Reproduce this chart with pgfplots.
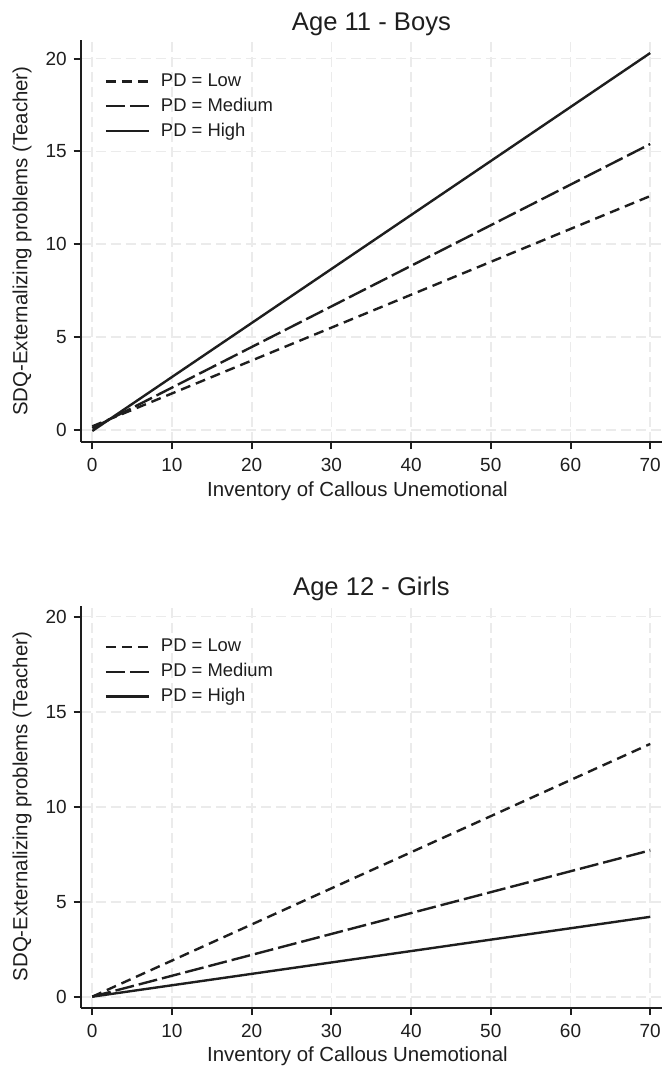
\documentclass[border=0pt]{standalone}
\usepackage{fontspec}
\setmainfont{Liberation Sans}
\usepackage{pgfplots}
\pgfplotsset{compat=1.18}
\definecolor{ink}{RGB}{30,30,30}
\definecolor{gridc}{RGB}{235,235,235}

\pgfplotsset{
  sdqpanel/.style={
    scale only axis, width=290.65pt, height=201pt,
    xmin=-1.45, xmax=71.5,
    xtick={0,10,...,70}, ytick={0,5,...,20},
    axis x line*=bottom, axis y line*=left,
    axis line style={-, line width=1pt, ink},
    tick align=outside, major tick length=3.5pt,
    tick style={line width=1pt, ink},
    grid=major,
    major grid style={gridc, line width=0.9pt, dash pattern=on 5pt off 2.5pt},
    /pgf/number format/assume math mode=true,
    tick label style={font=\fontsize{9.5}{11}\selectfont, ink},
    xticklabel style={yshift=-1pt},
    label style={font=\fontsize{10.2}{12}\selectfont, ink},
    every axis title shift=0pt,
    title style={font=\fontsize{12.8}{14}\selectfont, ink,
      at={(axis description cs:0.5,1)}, anchor=base, yshift=4.8pt},
    xlabel style={at={(axis description cs:0.476,-0.134)}, anchor=base},
    ylabel style={at={(axis description cs:-0.101,0.5)}, anchor=center},
    xlabel={Inventory of Callous Unemotional},
    ylabel={SDQ-Externalizing problems (Teacher)},
    legend cell align=left,
    legend style={draw=none, fill=none, font=\fontsize{9.2}{11}\selectfont,
      text=ink, at={(axis description cs:0.03,0.937)}, anchor=north west,
      row sep=0.3pt, nodes={inner xsep=5.5pt}},
    legend image code/.code={\draw[#1] (2pt,0pt) -- (23.5pt,0pt);},
    every axis plot/.append style={line width=1.2pt, ink},
  },
  pdlow/.style={dash pattern=on 5pt off 3pt},
  pdmed/.style={dash pattern=on 9.5pt off 2.5pt},
  pdhigh/.style={solid},
}

\begin{document}
\begin{tikzpicture}
\useasboundingbox (-40.35pt,-312.35pt) rectangle (290.65pt,221pt);

\begin{axis}[sdqpanel, at={(0pt,0pt)}, anchor=south west,
  ymin=-0.65, ymax=21, title={Age 11 - Boys}]
\addplot[pdlow] coordinates {(0,0.2) (70,12.6)};
\addplot[pdmed] coordinates {(0,0.1) (70,15.4)};
\addplot[pdhigh] coordinates {(0,-0.05) (70,20.3)};
\legend{PD = Low, PD = Medium, PD = High}
\end{axis}

\begin{axis}[sdqpanel, at={(0pt,-282.7pt)}, anchor=south west,
  ymin=-0.58, ymax=20.58, title={Age 12 - Girls}]
\addplot[pdlow] coordinates {(0,0) (70,13.3)};
\addplot[pdmed] coordinates {(0,0) (70,7.7)};
\addplot[pdhigh] coordinates {(0,0) (70,4.2)};
\legend{PD = Low, PD = Medium, PD = High}
\end{axis}
\end{tikzpicture}
\end{document}
